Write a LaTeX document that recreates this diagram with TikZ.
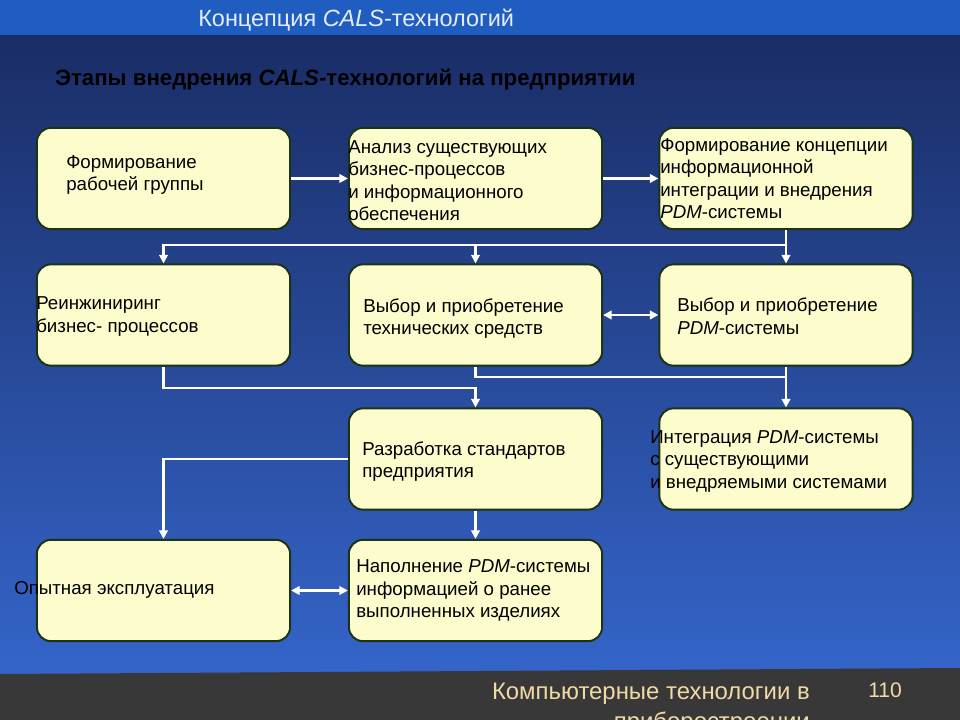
\documentclass[tikz,border=0pt]{standalone}
\usepackage{fontspec}
\setmainfont{Liberation Sans}
\usetikzlibrary{arrows.meta}
\definecolor{slideTop}{RGB}{31,94,192}
\definecolor{slideDark}{RGB}{26,45,102}
\definecolor{slideLight}{RGB}{53,102,204}
\definecolor{footGray}{RGB}{56,56,56}
\definecolor{boxFill}{RGB}{252,252,205}
\definecolor{boxLine}{RGB}{28,52,20}
\definecolor{titleWhite}{RGB}{228,236,248}
\definecolor{footText}{RGB}{242,218,165}

\begin{document}
\begin{tikzpicture}[x=0.025cm,y=-0.025cm,>={Triangle[length=6pt,width=6pt]},
  stage/.style={draw=boxLine,line width=1.4pt,fill=boxFill,rounded corners=10pt,
    minimum width=6.33cm,minimum height=2.53cm,inner sep=0pt},
  txt/.style={anchor=west,align=left,inner sep=0pt,font=\fontsize{13.3}{16}\selectfont},
  link/.style={->,white,line width=2pt},
  dlink/.style={<->,white,line width=2pt},
  line/.style={white,line width=2pt}]
\clip (0,0) rectangle (960,720);
% slide background
\shade[top color=slideDark,bottom color=slideLight] (0,35) rectangle (960,690);
\fill[slideTop] (0,0) rectangle (960,35);
\fill[footGray] (0,674) -- (960,668) -- (960,720) -- (0,720) -- cycle;

\node[anchor=west,inner sep=0pt,text=titleWhite,font=\fontsize{16.7}{20}\selectfont] (title) at (198,20) {Концепция \textit{CALS}-технологий};
\node[anchor=west,inner sep=0pt,text=black,font=\fontsize{15.8}{19}\bfseries] (sub) at (55,80) {Этапы внедрения \textit{CALS}-технологий на предприятии};

% stages
\node[stage] (bA) at (163.5,178.5) {};
\node[stage] (bB) at (475.5,178.5) {};
\node[stage] (bC) at (786,178.5) {};
\node[stage] (bD) at (163.5,315) {};
\node[stage] (bE) at (475.5,315) {};
\node[stage] (bF) at (786,315) {};
\node[stage] (bG) at (475.5,459) {};
\node[stage] (bH) at (786,459) {};
\node[stage] (bI) at (163.5,590.5) {};
\node[stage] (bJ) at (475.5,590.5) {};

\node[txt] (tA) at (66,175) {Формирование\\рабочей группы};
\node[txt] (tB) at (348,180.5) {Анализ существующих\\бизнес-процессов\\и информационного\\обеспечения};
\node[txt] (tC) at (660,178.5) {Формирование концепции\\информационной\\интеграции и внедрения\\\textit{PDM}-системы};
\node[txt] (tD) at (36,316.5) {Реинжиниринг\\бизнес- процессов};
\node[txt] (tE) at (363,318.5) {Выбор и приобретение\\технических средств};
\node[txt] (tF) at (677,316) {Выбор и приобретение\\\textit{PDM}-системы};
\node[txt] (tG) at (362,461.5) {Разработка стандартов\\предприятия};
\node[txt] (tH) at (650,461.5) {Интеграция \textit{PDM}-системы\\с существующими\\и внедряемыми системами};
\node[txt] (tI) at (14,590) {Опытная эксплуатация};
\node[txt] (tJ) at (356,590.5) {Наполнение \textit{PDM}-системы\\информацией о ранее\\выполненных изделиях};

% connectors
\coordinate (j1) at (786,245);
\coordinate (j2) at (475.5,388);
\coordinate (j3) at (475.5,377);
\draw[link] (bA) -- (bB);
\draw[link] (bB) -- (bC);
\draw[link] (bC) -- (bF);
\draw[link] (j1) -| (bD.north);
\draw[link] (j1 -| bE.north) -- (bE.north);
\draw[dlink] (bE) -- (bF);
\draw[link] (bD.south) |- (j2) -- (bG.north);
\draw[line] (bE.south) -- (j3) -- (j3 -| bF.south);
\draw[link] (bF) -- (bH);
\draw[link] (bG.west) -| (bI.north);
\draw[link] (bG) -- (bJ);
\draw[dlink] (bI) -- (bJ);

% footer
\node[anchor=north east,align=right,inner sep=0pt,text=footText,font=\fontsize{17}{21}\selectfont] (foot) at (810,683) {Компьютерные технологии в\\приборостроении};
\node[anchor=west,inner sep=0pt,text=footText,font=\fontsize{15}{18}\selectfont] (page) at (868,690) {110};
\end{tikzpicture}
\end{document}
